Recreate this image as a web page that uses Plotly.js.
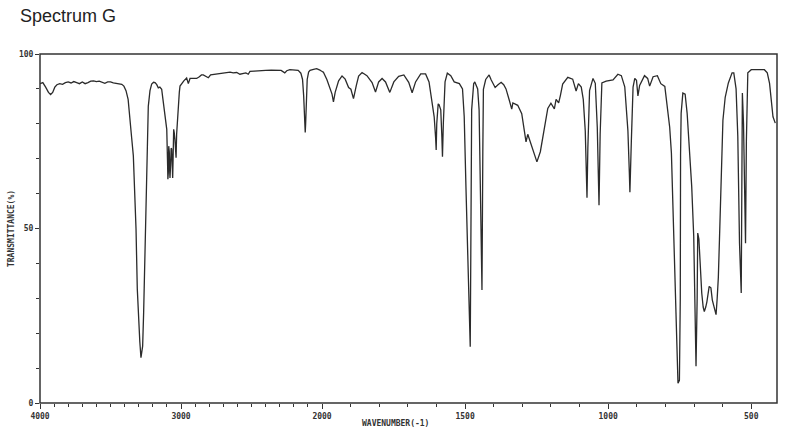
<!DOCTYPE html>
<html>
<head>
<meta charset="utf-8">
<script src="https://cdn.plot.ly/plotly-3.0.1.min.js"></script>
<style>html,body{margin:0;padding:0;background:#fff;}#chart{width:795px;height:437px;}</style>
</head>
<body>
<div id="chart"></div>
<script>
// Wavenumbers (cm-1), decreasing
const wavenumber = [
4000,3980,3960,3940,3925,3910,3895,3880,3860,3840,3820,3800,3780,3760,3740,3720,3700,3680,3660,3640,3620,3600,3580,3560,3540,3520,3500,3480,3460,3440,3420,3405,3390,3375,3362,3350,3338,3328,3319,3310,3300,3292,3284,3278,3272,3265,3255,3243,3232,3220,3208,3195,3184,3172,3161,3150,3137,3128,3118,3108,3101,3096,3093,3090,3087,3083,3080,3078,3074,3070,3066,3062,3059,3056,3052,3048,3043,3038,3035,3031,3025,3019,3012,3007,2995,2980,2960,2948,2936,2920,2900,2889,2870,2855,2842,2825,2806,2790,2771,2750,2720,2700,2680,2652,2630,2605,2582,2560,2540,2523,2511,2480,2440,2400,2360,2322,2290,2264,2250,2228,2200,2169,2150,2138,2130,2126,2122,2119,2116,2112,2105,2095,2085,2060,2038,2015,2000,
1995,1983,1972,1965,1960,1954,1942,1930,1919,1907,1899,1890,1880,1872,1860,1843,1825,1813,1802,1790,1778,1763,1749,1732,1714,1697,1685,1673,1655,1638,1626,1614,1608,1603,1601,1599,1594,1591,1585,1581,1579,1576,1570,1562,1550,1538,1520,1509,1503,1497,1491,1487,1484,1482,1480,1477,1470,1466,1456,1451,1445,1441,1438,1436,1428,1416,1409,1395,1385,1374,1365,1357,1345,1337,1333,1316,1302,1293,1287,1281,1270,1258,1249,1237,1223,1211,1200,1188,1182,1173,1167,1159,1141,1124,1112,1104,1094,1087,1080,1076,1074,1071,1065,1053,1045,1038,1034,1032,1028,1022,1007,995,983,966,954,942,931,926,924,919,913,907,901,896,890,873,862,855,843,828,816,802,793,785,779,773,767,761,756,751,748,747,745,739,731,724,716,708,701,696,693,689,687,683,679,673,668,664,659,655,647,641,636,631,623,619,615,611,605,599,591,580,567,561,553,547,541,535,533,531,527,520,517,512,500,477,454,444,436,424,416
];
// Transmittance (%)
const transmittance = [
91.5,91.8,90.5,89,88.4,89,90.5,91.2,91.5,91.3,91.8,92,91.7,92.1,91.8,91.5,92,91.5,91.8,92.2,92.3,92.1,92.2,91.8,91.6,92,92,91.7,91.5,91.5,91.3,90.8,89.5,87,82.2,76,70.8,60,49.9,32.7,21,17.5,13,14.5,16.3,25.9,47,69.9,85,89.5,91.4,91.9,91.8,91.2,90.3,90.5,89.9,87,83.2,80,78.4,70,64.1,66,73.6,72,66,64.5,68,73,72.8,68,64.5,70,78.4,77.5,75.5,72,70.3,77,82,86,89,90.8,91.5,92.3,93.1,91.5,93,93,93.2,93,93.5,94,94,93.5,93.2,94,94.1,94.2,94.5,94.5,94.6,94.8,94.6,94.7,94.2,94.5,94.6,94.2,95,95.1,95.3,95.3,95.4,95.3,95.3,94.6,95.2,95.5,95.4,95.3,94.5,92.7,88,85,80,77.5,80,85,92.7,94.8,95.3,95.6,95.8,95.4,95,
94.8,92.7,89.8,88.5,86.3,89,92.3,93.7,92.8,90.4,89.9,87.2,91,93.7,94.7,93.8,91.8,89.1,92,93,92,89,92,93.6,94,91.9,88.9,92,94.3,94.3,92,86,82,76,72.5,80,85.7,85.5,84,76,70.6,80,92,94.5,93.8,92,91.5,90,82,62,43.8,24.7,18,16.1,43,84,91.5,92,90,84,53.4,32.4,72,89.9,92.7,94,92.6,90.4,91.2,91.9,91.2,90,86.6,84.2,86,85.3,82.9,78,74.8,77,74.4,71,69.1,72,78.2,84.4,85.9,84.3,87,86,88.1,91.4,93.3,92.8,89.4,91.5,90.5,87,77.9,65,58.8,73,89.5,93,91.6,78.9,65,56.7,77,91.7,92.2,92.5,92.6,94.2,93.8,90.6,78,66,60.4,75,90.5,93,92.5,88,91,93.8,93,90.8,93.5,93.8,91.5,90.7,83.6,79,71.6,52.5,33.4,21,5.7,6.5,30,71,83,88.8,88.5,83,73.5,62,47.8,28.7,10.5,30,48.7,47,39,31.5,27.5,26.2,27.5,29,33.4,33,29.5,27.8,25.3,30,36,47,66.8,81,87.6,91.7,94.6,94.6,90,76.4,45.8,31.5,60,88.8,80,45.8,75,94.6,95.5,95.5,95.5,94.6,91.6,82,80.2
];
const breakWavenumber = 2000;
const upperTickVals = [4000, 3500, 3000, 2500];
const upperTickText = ['4000', '', '3000', ''];
const lowerTickVals = [2000, 1500, 1000, 500];
const lowerTickText = ['2000', '1500', '1000', '500'];
const yTickVals = [0, 50, 100];
const yTickText = ['0', '50', '100'];

const hiX = [], hiY = [], loX = [], loY = [];
for (let i = 0; i < wavenumber.length; i++) {
  if (wavenumber[i] >= breakWavenumber) { hiX.push(wavenumber[i]); hiY.push(transmittance[i]); }
  if (wavenumber[i] <= breakWavenumber) { loX.push(wavenumber[i]); loY.push(transmittance[i]); }
}
const minorHi = [], minorLo = [], minorY = [];
for (let v = 4000; v >= 2000; v -= 100) minorHi.push(v);
for (let v = 2000; v >= 410; v -= 100) minorLo.push(v);
for (let v = 0; v <= 100; v += 10) minorY.push(v);

const lineStyle = {color: '#2b2b2b', width: 1.3, shape: 'linear'};
const traces = [
  {x: hiX, y: hiY, xaxis: 'x', yaxis: 'y', type: 'scatter', mode: 'lines', line: lineStyle, hoverinfo: 'skip'},
  {x: loX, y: loY, xaxis: 'x2', yaxis: 'y', type: 'scatter', mode: 'lines', line: lineStyle, hoverinfo: 'skip'}
];
const tickFont = {family: 'DejaVu Sans Mono', size: 8, color: '#333', weight: 'bold'};
const split = 282 / 737;
const axisCommon = {
  showgrid: false, zeroline: false, showline: false, ticks: 'outside', ticklen: 5,
  tickwidth: 1, tickcolor: '#333', tickfont: tickFont, fixedrange: true, tickmode: 'array'
};
const layout = {
  width: 795, height: 437,
  margin: {l: 40, r: 18, t: 54, b: 34},
  paper_bgcolor: '#fff', plot_bgcolor: '#fff',
  showlegend: false,
  xaxis: Object.assign({}, axisCommon, {
    domain: [0, split], range: [4000, 2000], anchor: 'y',
    tickvals: upperTickVals, ticktext: upperTickText,
    minor: {tickmode: 'array', tickvals: minorHi, ticks: 'outside', ticklen: 3, tickcolor: '#333', tickwidth: 1}
  }),
  xaxis2: Object.assign({}, axisCommon, {
    domain: [split, 1], range: [2000, 410], anchor: 'y',
    tickvals: lowerTickVals, ticktext: lowerTickText,
    minor: {tickmode: 'array', tickvals: minorLo, ticks: 'outside', ticklen: 3, tickcolor: '#333', tickwidth: 1}
  }),
  yaxis: Object.assign({}, axisCommon, {
    range: [0, 100], anchor: 'x', ticklen: 4,
    tickvals: yTickVals, ticktext: yTickText,
    minor: {tickmode: 'array', tickvals: minorY, ticks: 'outside', ticklen: 3, tickcolor: '#333', tickwidth: 1},
    title: {text: 'TRANSMITTANCE(%)', font: {family: 'DejaVu Sans Mono', size: 8, color: '#333', weight: 'bold'}, standoff: 3}
  }),
  title: {text: 'Spectrum G', x: 0.025, xanchor: 'left', y: 0.963, yanchor: 'middle',
          font: {family: 'Liberation Sans', size: 18, color: '#222'}},
  shapes: [
    {type: 'rect', xref: 'paper', yref: 'paper', x0: 0, x1: 1, y0: 0, y1: 1,
     line: {color: '#333', width: 1.5}, fillcolor: 'rgba(0,0,0,0)', layer: 'above'}
  ],
  annotations: [
    {text: 'WAVENUMBER(-1)', xref: 'paper', yref: 'paper', x: 0.4817, y: -0.060, yanchor: 'middle', xanchor: 'center', showarrow: false,
     font: {family: 'DejaVu Sans Mono', size: 8, color: '#333', weight: 'bold'}}
  ]
};
Plotly.newPlot('chart', traces, layout, {staticPlot: true, displayModeBar: false});
</script>
</body>
</html>
